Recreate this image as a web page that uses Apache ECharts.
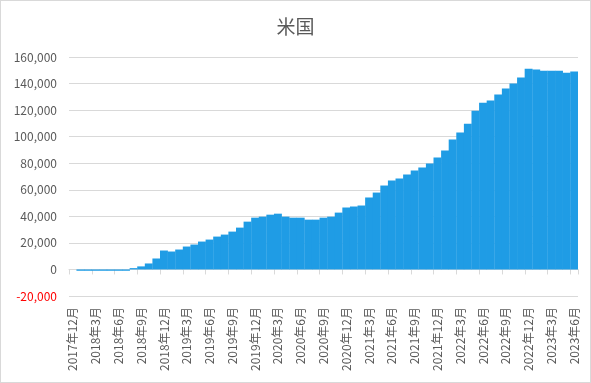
<!DOCTYPE html>
<html>
<head>
<meta charset="utf-8">
<script src="https://cdn.jsdelivr.net/npm/echarts@6/dist/echarts.min.js"></script>
<style>
html,body{margin:0;padding:0;background:#fff;}
#wrap{position:relative;width:591px;height:383px;}
#chart{position:absolute;left:0;top:0;width:591px;height:383px;}
#frame{position:absolute;left:0;top:0;width:591px;height:383px;box-sizing:border-box;border:1px solid #d9d9d9;pointer-events:none;}
</style>
</head>
<body>
<div id="wrap"><div id="chart"></div><div id="frame"></div></div>
<script>
const titleText = '米国';
const categories = [
 '2017年12月',
 '2018年1月','2018年2月','2018年3月','2018年4月','2018年5月','2018年6月','2018年7月','2018年8月','2018年9月','2018年10月','2018年11月','2018年12月',
 '2019年1月','2019年2月','2019年3月','2019年4月','2019年5月','2019年6月','2019年7月','2019年8月','2019年9月','2019年10月','2019年11月','2019年12月',
 '2020年1月','2020年2月','2020年3月','2020年4月','2020年5月','2020年6月','2020年7月','2020年8月','2020年9月','2020年10月','2020年11月','2020年12月',
 '2021年1月','2021年2月','2021年3月','2021年4月','2021年5月','2021年6月','2021年7月','2021年8月','2021年9月','2021年10月','2021年11月','2021年12月',
 '2022年1月','2022年2月','2022年3月','2022年4月','2022年5月','2022年6月','2022年7月','2022年8月','2022年9月','2022年10月','2022年11月','2022年12月',
 '2023年1月','2023年2月','2023年3月','2023年4月','2023年5月','2023年6月'
];
const values = [
 0,
 -1000,-1000,-1000,-1000,-1000,-1000,-1000,1000,2300,4500,8250,14250,
 13500,15000,17250,18750,21000,22500,24750,26250,28500,31500,36000,39000,
 39750,41250,42000,39750,39000,39000,37500,37500,39000,39750,42800,46650,
 47400,48150,54200,57900,63200,67000,68500,71500,74500,76700,79700,84300,
 89500,97800,103100,109800,119600,125600,127200,131700,136200,140000,144500,151200,
 150500,149700,149700,149700,148200,149000
];
const yMin = -20000, yMax = 160000, yStep = 20000;

const font = '"Noto Sans CJK JP", "Noto Sans", sans-serif';
const chart = echarts.init(document.getElementById('chart'), null, {renderer:'canvas'});
chart.setOption({
  animation: false,
  title: {
    text: titleText, left: 'center', top: 12,
    textStyle: {fontSize: 19, fontWeight: 'normal', color: '#595959', fontFamily: font}
  },
  grid: {left: 69, right: 13, top: 57, bottom: 87, containLabel: false},
  xAxis: [
    {
      type: 'category', data: categories, position: 'bottom',
      axisLine: {show: true, onZero: true, lineStyle: {color: '#d9d9d9', width: 1}},
      axisTick: {show: true, interval: 2, length: 5, alignWithLabel: false, lineStyle: {color: '#d9d9d9'}},
      axisLabel: {show: false},
      splitLine: {show: false}
    },
    {
      type: 'category', data: categories, position: 'bottom',
      axisLine: {show: false, onZero: false},
      axisTick: {show: false},
      axisLabel: {show: true, interval: 2, rotate: 90, margin: 11, fontSize: 12, color: '#595959', fontFamily: font},
      splitLine: {show: false}
    }
  ],
  yAxis: {
    type: 'value', min: yMin, max: yMax, interval: yStep,
    axisLine: {show: false}, axisTick: {show: false},
    splitLine: {show: true, lineStyle: {color: '#d9d9d9', width: 1}},
    axisLabel: {
      margin: 12, fontSize: 12, fontFamily: font,
      color: function (v) { return Number(v) < 0 ? '#ff0000' : '#595959'; },
      formatter: function (v) { return Number(v).toLocaleString('en-US'); }
    }
  },
  series: [{
    type: 'bar', data: values, xAxisIndex: 0,
    barWidth: '104%',
    itemStyle: {color: '#1f9ce5'}
  }]
});
</script>
</body>
</html>
